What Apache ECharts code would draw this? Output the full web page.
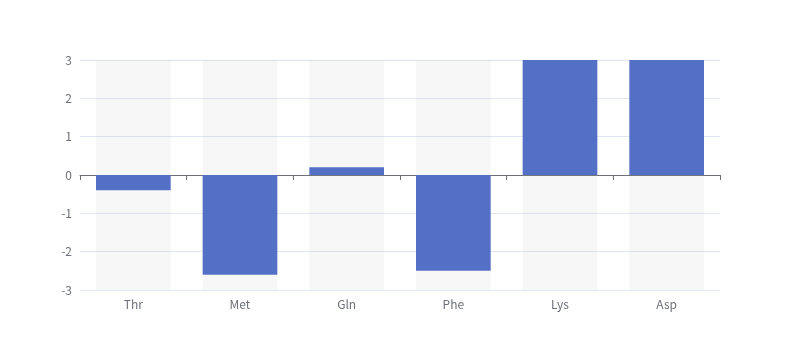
<!DOCTYPE html>
<html><head><meta charset="utf-8">
<script src="https://cdn.jsdelivr.net/npm/echarts@6/dist/echarts.min.js"></script>
<style>html,body{margin:0;padding:0;background:#fff}#c{width:800px;height:360px}</style>
</head><body><div id="c"></div>
<script>
var categories = ['Thr', 'Met', 'Gln', 'Phe', 'Lys', 'Asp'];
var values = [-0.4, -2.6, 0.2, -2.5, 4, 4];
var chart = echarts.init(document.getElementById('c'), null, {renderer: 'canvas'});
var FONT = '"Noto Sans CJK SC", sans-serif';
chart.setOption({
  animation: false,
  textStyle: {fontFamily: FONT},
  grid: {left: 80, right: 80, top: 60, bottom: 70},
  xAxis: {
    type: 'category', data: categories,
    axisLine: {show: true, lineStyle: {color: '#6E7079'}},
    axisTick: {show: true, length: 5, alignWithLabel: false, lineStyle: {color: '#6E7079'}},
    axisLabel: {color: '#6E7079', fontSize: 12, margin: 8, fontFamily: FONT},
    splitLine: {show: false}
  },
  yAxis: {
    type: 'value', min: -3, max: 3, interval: 1,
    axisLabel: {color: '#6E7079', fontSize: 12, fontFamily: FONT},
    splitLine: {lineStyle: {color: '#E0E6F1'}},
    axisLine: {show: false}, axisTick: {show: false}
  },
  series: [{
    type: 'bar', data: values, barWidth: '70%',
    itemStyle: {color: '#5470c6'},
    showBackground: true,
    backgroundStyle: {color: 'rgba(180,180,180,0.1)'}
  }]
});
</script></body></html>
